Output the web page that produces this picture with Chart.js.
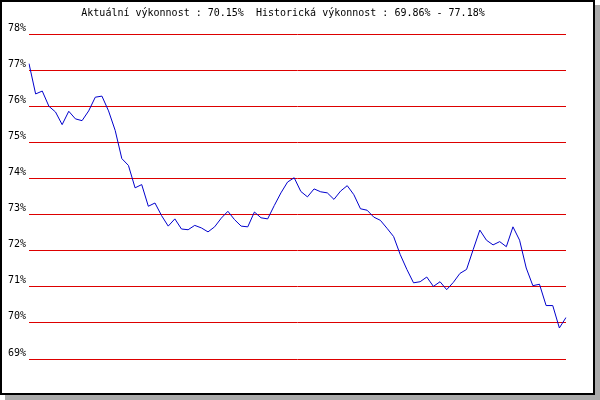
<!DOCTYPE html>
<html>
<head>
<meta charset="utf-8">
<script src="https://cdn.jsdelivr.net/npm/chart.js@4"></script>
<style>
  body { margin: 0; background: #fff; }
  #frame {
    position: absolute; left: 0; top: 0;
    width: 591px; height: 391px;
    border: 2px solid #000;
    box-shadow: 5px 5px 0 #aaa;
    background: #fff;
  }
  #graf { position: absolute; left: 0; top: 0; }
</style>
</head>
<body>
<div id="frame"></div>
<canvas id="graf" width="600" height="400"></canvas>
<script>
// values
var aktualni = '70.15%';
var historickaMin = '69.86%';
var historickaMax = '77.18%';

var vykonnost = [
    77.18, 76.34, 76.42, 76.00, 75.84, 75.49, 75.86, 75.65, 75.60, 75.87,
    76.25, 76.28, 75.87, 75.33, 74.55, 74.36, 73.74, 73.83, 73.23, 73.32,
    72.97, 72.68, 72.88, 72.60, 72.58, 72.70, 72.63, 72.52, 72.66, 72.90,
    73.09, 72.86, 72.68, 72.66, 73.07, 72.91, 72.88, 73.25, 73.60, 73.90,
    74.02, 73.64, 73.49, 73.71, 73.63, 73.60, 73.42, 73.65, 73.80, 73.55,
    73.16, 73.12, 72.93, 72.84, 72.62, 72.39, 71.89, 71.48, 71.11, 71.14,
    71.27, 71.01, 71.14, 70.92, 71.12, 71.37, 71.48, 72.03, 72.57, 72.29,
    72.16, 72.25, 72.11, 72.66, 72.29, 71.52, 71.03, 71.07, 70.48, 70.48,
    69.86, 70.15
];
var dny = vykonnost.map(function (v, i) { return i + 1; });
var osaMin = 69;
var osaMax = 78;

var font = 'DejaVu Sans Mono';
var ctx = document.getElementById('graf').getContext('2d');

var graf = new Chart(ctx, {
    type: 'line',
    data: {
        labels: dny,
        datasets: [{
            data: vykonnost,
            borderColor: '#0000cc',
            borderWidth: 1,
            pointRadius: 0,
            tension: 0,
            fill: false
        }]
    },
    options: {
        responsive: false,
        animation: false,
        devicePixelRatio: 1,
        layout: { padding: { left: 0, top: 0, right: 34, bottom: 41 } },
        plugins: {
            legend: { display: false },
            tooltip: { enabled: false },
            title: {
                display: true,
                text: 'Aktuální výkonnost : ' + aktualni + '  Historická výkonnost : ' + historickaMin + ' - ' + historickaMax,
                color: '#000',
                font: { family: font, size: 10, weight: 'normal', lineHeight: 1.2 },
                padding: { top: 7, bottom: 15 }
            }
        },
        scales: {
            x: { display: false },
            y: {
                min: osaMin,
                max: osaMax,
                afterFit: function (scale) { scale.width = 29; },
                border: { display: false },
                grid: { color: '#dd0000', lineWidth: 1, drawTicks: false },
                ticks: {
                    stepSize: 1,
                    padding: 3,
                    labelOffset: -6,
                    color: '#000',
                    font: { family: font, size: 10 },
                    callback: function (v) { return v + '%'; }
                }
            }
        }
    }
});
</script>
</body>
</html>
